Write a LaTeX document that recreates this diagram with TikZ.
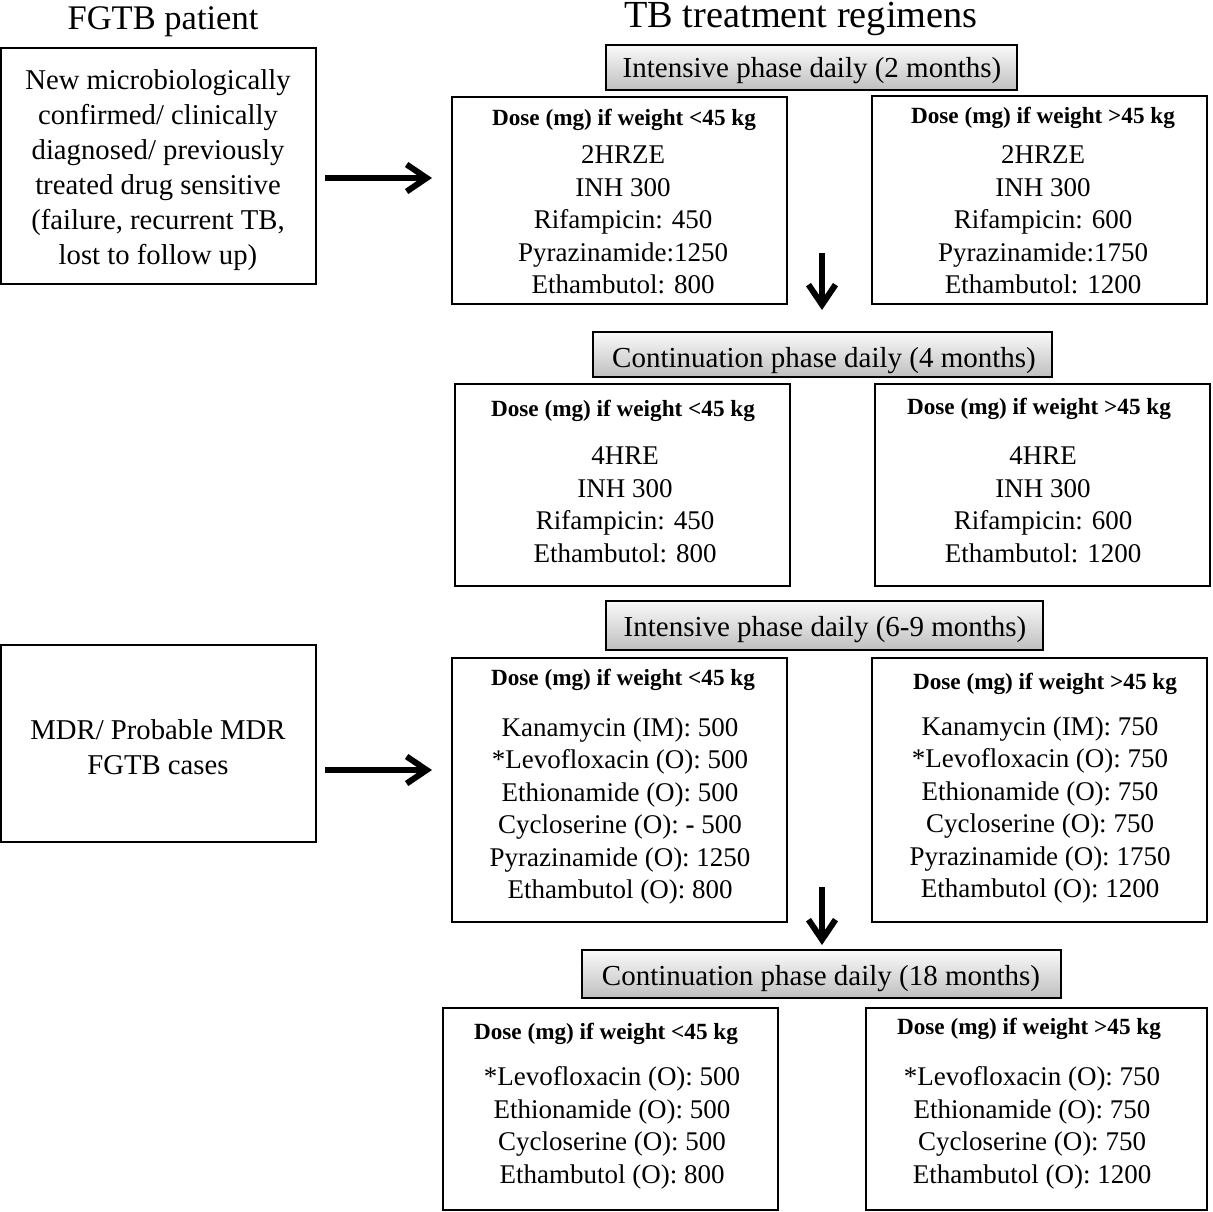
\documentclass[tikz,border=0pt]{standalone}
\usepackage{fontspec}
\setmainfont{Liberation Serif}
\usetikzlibrary{arrows.meta}
\tikzset{
  plainbox/.style={draw, line width=1.3pt, inner sep=0pt, outer sep=0pt},
  phasebox/.style={draw, line width=2.5pt, top color=gray!4, bottom color=gray!50, inner sep=0pt, outer sep=0pt},
  phasetext/.style={font=\fontsize{29}{34}\selectfont, inner sep=0pt, anchor=base},
  hdrtext/.style={font=\bfseries\fontsize{23.2}{26}\selectfont, inner sep=0pt},
  bodytext/.style={font=\fontsize{27}{32.5}\selectfont, align=center, inner sep=0pt},
  lefttext/.style={font=\fontsize{28.7}{35}\selectfont, align=center, inner sep=0pt},
  titletext/.style={inner sep=0pt, anchor=base},
  arr/.style={line width=6pt, -{Straight Barb[length=20pt,width=27pt]}},
}
\begin{document}
\begin{tikzpicture}[x=1pt,y=-1pt]
\fill[white] (0,0) rectangle (1212,1212);
\useasboundingbox (0,0) rectangle (1212,1212);

% titles
\node[titletext, font=\fontsize{34.5}{40}\selectfont] (t1) at (163,30) {FGTB patient};
\node[titletext, font=\fontsize{38.3}{42}\selectfont] (t2) at (801,28) {TB treatment regimens};

% left boxes
\node[plainbox, minimum width=315, minimum height=236] (B1) at (158.5,166) {};
\node[lefttext] (B1t) at (158,170) {New microbiologically\\confirmed/ clinically\\diagnosed/ previously\\treated drug sensitive\\(failure, recurrent TB,\\lost to follow up)};

\node[plainbox, minimum width=315, minimum height=197] (MDR) at (158.5,743.5) {};
\node[lefttext] (MDRt) at (158,747) {MDR/ Probable MDR\\FGTB cases};

% phase boxes
\node[phasebox, minimum width=411, minimum height=45] (G1) at (811.5,67.5) {};
\node[phasetext] (G1t) at (812,78) {Intensive phase daily (2 months)};
\node[phasebox, minimum width=459, minimum height=45] (G2) at (822.5,354.5) {};
\node[phasetext] (G2t) at (824,367) {Continuation phase daily (4 months)};
\node[phasebox, minimum width=437, minimum height=49] (G3) at (824.5,625.5) {};
\node[phasetext] (G3t) at (825,636) {Intensive phase daily (6-9 months)};
\node[phasebox, minimum width=479, minimum height=48] (G4) at (821.5,974) {};
\node[phasetext] (G4t) at (821,985) {Continuation phase daily (18 months)};

% dose boxes row 1
\node[plainbox, minimum width=335, minimum height=207] (L1) at (619.5,200.5) {};
\node[hdrtext] (L1h) at (624,120) {Dose (mg) if weight <45 kg};
\node[bodytext] (L1b) at (623,220) {2HRZE\\INH 300\\Rifampicin: 450\\Pyrazinamide:1250\\Ethambutol: 800};

\node[plainbox, minimum width=335, minimum height=208] (R1) at (1039.5,200) {};
\node[hdrtext] (R1h) at (1043,118) {Dose (mg) if weight >45 kg};
\node[bodytext] (R1b) at (1043,220) {2HRZE\\INH 300\\Rifampicin: 600\\Pyrazinamide:1750\\Ethambutol: 1200};

% row 2
\node[plainbox, minimum width=335, minimum height=202] (L2) at (622.5,485) {};
\node[hdrtext] (L2h) at (623,411) {Dose (mg) if weight <45 kg};
\node[bodytext] (L2b) at (625,505) {4HRE\\INH 300\\Rifampicin: 450\\Ethambutol: 800};

\node[plainbox, minimum width=335, minimum height=202] (R2) at (1042.5,485) {};
\node[hdrtext] (R2h) at (1039,409) {Dose (mg) if weight >45 kg};
\node[bodytext] (R2b) at (1043,505) {4HRE\\INH 300\\Rifampicin: 600\\Ethambutol: 1200};

% row 3
\node[plainbox, minimum width=335, minimum height=264] (L3) at (619.5,790) {};
\node[hdrtext] (L3h) at (623,680) {Dose (mg) if weight <45 kg};
\node[bodytext] (L3b) at (620,811) {Kanamycin (IM): 500\\*Levofloxacin (O): 500\\Ethionamide (O): 500\\Cycloserine (O): \textbf{-} 500\\Pyrazinamide (O): 1250\\Ethambutol (O): 800};

\node[plainbox, minimum width=335, minimum height=264] (R3) at (1039.5,790) {};
\node[hdrtext] (R3h) at (1045,684) {Dose (mg) if weight >45 kg};
\node[bodytext] (R3b) at (1040,810) {Kanamycin (IM): 750\\*Levofloxacin (O): 750\\Ethionamide (O): 750\\Cycloserine (O): 750\\Pyrazinamide (O): 1750\\Ethambutol (O): 1200};

% row 4
\node[plainbox, minimum width=335, minimum height=202] (L4) at (610.5,1109) {};
\node[hdrtext] (L4h) at (606,1034) {Dose (mg) if weight <45 kg};
\node[bodytext] (L4b) at (612,1128) {*Levofloxacin (O): 500\\Ethionamide (O): 500\\Cycloserine (O): 500\\Ethambutol (O): 800};

\node[plainbox, minimum width=341, minimum height=202] (R4) at (1036.5,1109) {};
\node[hdrtext] (R4h) at (1029,1029) {Dose (mg) if weight >45 kg};
\node[bodytext] (R4b) at (1032,1128) {*Levofloxacin (O): 750\\Ethionamide (O): 750\\Cycloserine (O): 750\\Ethambutol (O): 1200};

% arrows
\coordinate (a1s) at (325,178);
\coordinate (a1e) at (432,178);
\coordinate (a2s) at (325,770);
\coordinate (a2e) at (432,770);
\coordinate (d1s) at (822,253);
\coordinate (d1e) at (822,310);
\coordinate (d2s) at (822,887);
\coordinate (d2e) at (822,945);
\draw[arr] (a1s) -- (a1e);
\draw[arr] (a2s) -- (a2e);
\draw[arr] (d1s) -- (d1e);
\draw[arr] (d2s) -- (d2e);
\end{tikzpicture}
\end{document}
